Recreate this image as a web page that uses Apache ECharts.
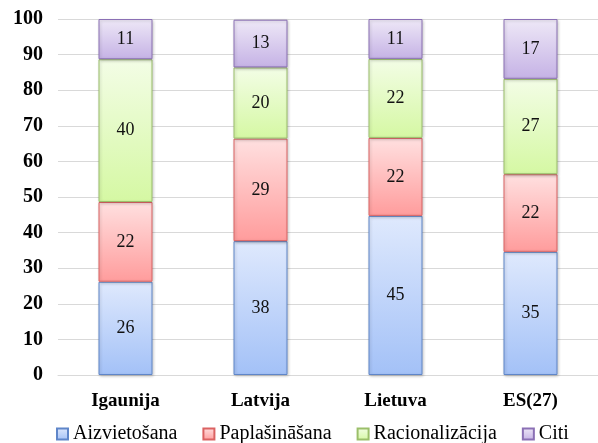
<!DOCTYPE html>
<html><head><meta charset="utf-8">
<script src="https://cdn.jsdelivr.net/npm/echarts@6/dist/echarts.min.js"></script>
<style>html,body{margin:0;padding:0;background:#fff}#c{width:598px;height:443px}</style>
</head><body><div id="c"></div>
<script>
const categories = ['Igaunija', 'Latvija', 'Lietuva', 'ES(27)'];
const seriesNames = ['Aizvietošana', 'Paplašināšana', 'Racionalizācija', 'Citi'];
const aizvietosana = [26.2, 37.6, 44.7, 34.6];
const paplasinasana = [22.4, 28.8, 21.9, 21.8];
const racionalizacija = [40.1, 20.0, 22.2, 26.8];
const citi = [11.3, 13.4, 11.2, 16.8];
const yTicks = [0, 10, 20, 30, 40, 50, 60, 70, 80, 90, 100];

const values = [aizvietosana, paplasinasana, racionalizacija, citi];
const styles = [
  {top: '#dfe9fd', bottom: '#a3c1f7', border: '#5f86c9'},
  {top: '#ffe0e0', bottom: '#ff9c9c', border: '#db6262'},
  {top: '#f3fde6', bottom: '#d5f8a3', border: '#9bbf6a'},
  {top: '#eee8f7', bottom: '#c5b2e5', border: '#8b70b5'}
];
const font = "'Liberation Serif', serif";

const chart = echarts.init(document.getElementById('c'), null, {renderer: 'canvas'});
chart.setOption({
  animation: false,
  textStyle: {fontFamily: font},
  grid: {left: 58, right: -6, top: 19, bottom: 68, containLabel: false},
  legend: {
    top: 419, left: 51,
    itemWidth: 11, itemHeight: 11, itemGap: 25,
    icon: 'rect',
    formatter: n => '{t|' + n + '}',
    textStyle: {fontFamily: font, fontSize: 20, color: '#000',
      rich: {t: {fontFamily: font, fontSize: 20, color: '#000'}}},
    data: seriesNames
  },
  xAxis: {
    type: 'category', data: categories,
    axisLine: {lineStyle: {color: '#d9d9d9', width: 1}},
    axisTick: {show: false},
    axisLabel: {fontFamily: font, fontSize: 19, fontWeight: 'bold', color: '#000', margin: 17}
  },
  yAxis: {
    type: 'value', min: 0, max: 100, interval: 10,
    axisLine: {show: false}, axisTick: {show: false},
    splitLine: {lineStyle: {color: '#d9d9d9', width: 1}},
    axisLabel: {fontFamily: font, fontSize: 20, fontWeight: 'bold', color: '#000', margin: 15,
      formatter: v => yTicks.includes(v) ? String(v) : ''}
  },
  series: values.map((arr, i) => ({
    name: seriesNames[i], type: 'bar', stack: 'total', barWidth: '40%',
    data: arr,
    itemStyle: {
      color: new echarts.graphic.LinearGradient(0, 0, 0, 1, [
        {offset: 0, color: styles[i].top}, {offset: 1, color: styles[i].bottom}
      ]),
      borderColor: styles[i].border, borderWidth: 1,
      shadowBlur: 3, shadowColor: 'rgba(0,0,0,0.2)', shadowOffsetX: 1, shadowOffsetY: 1
    },
    label: {show: true, position: 'inside', fontFamily: font, fontSize: 18, color: '#111',
      formatter: p => String(Math.round(p.value))}
  }))
});
</script></body></html>
